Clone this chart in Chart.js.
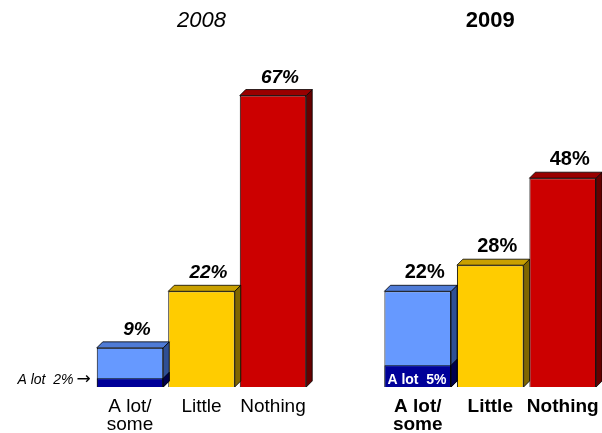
<!DOCTYPE html>
<html><head><meta charset="utf-8">
<script src="https://cdn.jsdelivr.net/npm/chart.js@4.4.1/dist/chart.umd.min.js"></script>
<style>
html,body{margin:0;padding:0;background:#fff;}
#wrap{position:relative;width:602px;height:433px;overflow:hidden;}
canvas{position:absolute;left:0;top:0;}
</style>
</head><body>
<div id="wrap"><canvas id="c1" width="602" height="433"></canvas><canvas id="c2" width="602" height="433"></canvas></div>
<script>
// ---- data ----
const categories = [['A lot/', 'some'], 'Little', 'Nothing'];
const total2008 = [9, 22, 67];
const aLot2008 = [2, null, null];
const total2009 = [22, 28, 48];
const aLot2009 = [5, null, null];
const valueLabels2008 = ['9%', '22%', '67%'];
const valueLabels2009 = ['22%', '28%', '48%'];
const aLotNote2008 = 'A lot  2%';
const aLotNote2009 = 'A lot  5%';
const title2008 = '2008';
const title2009 = '2009';
const yMax = 80;

// ---- styles ----
const FRONT = ['#6699FF', '#FFCC00', '#CC0000'];
const SIDE = ['#2F4F94', '#806600', '#660000'];
const TOP = ['#4F7BD6', '#C9A000', '#990000'];
const ALOT_FRONT = '#000099';
const ALOT_SIDE = '#00004D';
const FONT = '"Liberation Sans", Arial, Helvetica, sans-serif';
const DX = 6, DY = 6;

function poly(ctx, pts, fill) {
  ctx.beginPath();
  ctx.moveTo(pts[0][0], pts[0][1]);
  for (let k = 1; k < pts.length; k++) ctx.lineTo(pts[k][0], pts[k][1]);
  ctx.closePath();
  ctx.fillStyle = fill;
  ctx.fill();
  ctx.stroke();
}

const threeD = {
  id: 'threeD',
  afterDatasetsDraw(chart, args, o) {
    const ctx = chart.ctx;
    ctx.save();
    ctx.lineWidth = 0.8;
    ctx.strokeStyle = '#000';
    const tot = chart.getDatasetMeta(1);
    tot.data.forEach((bar, i) => {
      const p = bar.getProps(['x', 'y', 'base', 'width'], true);
      const l = p.x - p.width / 2, r = p.x + p.width / 2;
      poly(ctx, [[r, p.y], [r + DX, p.y - DY], [r + DX, p.base - DY], [r, p.base]], SIDE[i]);
      poly(ctx, [[l, p.y], [l + DX, p.y - DY], [r + DX, p.y - DY], [r, p.y]], TOP[i]);
    });
    const a = chart.getDatasetMeta(0);
    a.data.forEach((bar, i) => {
      if (chart.data.datasets[0].data[i] == null) return;
      const p = bar.getProps(['x', 'y', 'base', 'width'], true);
      const r = p.x + p.width / 2;
      poly(ctx, [[r, p.y], [r + DX, p.y - DY], [r + DX, p.base - DY], [r, p.base]], ALOT_SIDE);
    });
    ctx.restore();
  },
  afterDraw(chart, args, o) {
    const ctx = chart.ctx;
    const xs = chart.scales.x, ys = chart.scales.y;
    const area = chart.chartArea;
    ctx.save();
    // title
    ctx.fillStyle = '#000';
    ctx.textAlign = 'center';
    ctx.textBaseline = 'alphabetic';
    ctx.font = o.titleStyle + ' 22px ' + FONT;
    ctx.fillText(o.title, (area.left + area.right) / 2, 27);
    // value labels
    const tot = chart.getDatasetMeta(1);
    ctx.font = o.valueStyle + ' ' + o.valueSize + 'px ' + FONT;
    tot.data.forEach((bar, i) => {
      ctx.fillText(o.values[i], bar.x + 7, bar.y - 13);
    });
    // category labels
    ctx.font = o.catStyle + ' 19px ' + FONT;
    const base = ys.getPixelForValue(0);
    chart.data.labels.forEach((lab, i) => {
      const cx = xs.getPixelForValue(i);
      const lines = Array.isArray(lab) ? lab : [lab];
      lines.forEach((t, j) => ctx.fillText(t, cx, base + 25 + j * 18));
    });
    // a lot note
    const aBar = chart.getDatasetMeta(0).data[0];
    if (o.noteInside) {
      ctx.fillStyle = '#fff';
      ctx.textAlign = 'left';
      ctx.font = 'bold 14px ' + FONT;
      ctx.fillText(o.note, aBar.x - aBar.width / 2 + 3, base - 3);
    } else {
      ctx.fillStyle = '#000';
      ctx.textAlign = 'right';
      const xr = aBar.x - aBar.width / 2 - 6;
      ctx.font = '17px "DejaVu Sans", sans-serif';
      ctx.fillText('\u2192', xr, base - 3);
      const aw = ctx.measureText('\u2192').width;
      ctx.font = 'italic 14px ' + FONT;
      ctx.fillText(o.note, xr - aw - 3, base - 3);
    }
    ctx.restore();
  }
};

function makeChart(id, totals, alot, pad, barPct, opts) {
  return new Chart(document.getElementById(id), {
    type: 'bar',
    data: {
      labels: categories,
      datasets: [
        { label: 'A lot', data: alot, backgroundColor: ALOT_FRONT, borderColor: '#000', borderWidth: 1,
          barPercentage: barPct, categoryPercentage: 1 },
        { label: 'Total', data: totals, backgroundColor: FRONT, borderColor: '#000', borderWidth: 1,
          barPercentage: barPct, categoryPercentage: 1 }
      ]
    },
    options: {
      responsive: false,
      animation: false,
      devicePixelRatio: 1,
      layout: { padding: pad },
      scales: {
        x: { display: false, stacked: true },
        y: { display: false, stacked: false, min: 0, max: yMax }
      },
      plugins: {
        legend: { display: false },
        tooltip: { enabled: false },
        threeD: opts
      }
    },
    plugins: [threeD]
  });
}

makeChart('c1', total2008, aLot2008, { left: 94.25, right: 602 - 308.75, top: 39, bottom: 46 }, 0.93, {
  title: title2008, titleStyle: 'italic', values: valueLabels2008, valueStyle: 'italic bold', valueSize: 19,
  catStyle: 'normal', note: aLotNote2008, noteInside: false
});
makeChart('c2', total2009, aLot2009, { left: 381.5, right: 3, top: 39, bottom: 46 }, 0.92, {
  title: title2009, titleStyle: 'bold', values: valueLabels2009, valueStyle: 'bold', valueSize: 20,
  catStyle: 'bold', note: aLotNote2009, noteInside: true
});
</script>
</body></html>
